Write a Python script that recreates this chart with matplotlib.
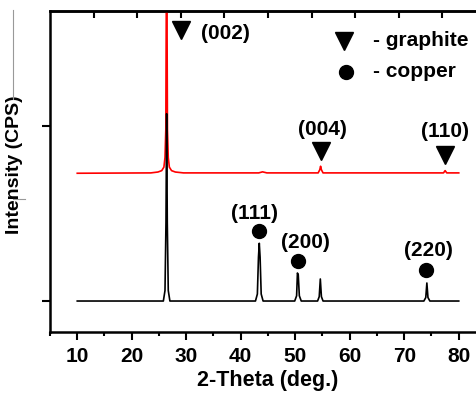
import matplotlib.pyplot as plt
from matplotlib.lines import Line2D

plt.rcParams['font.family'] = ['Liberation Sans', 'DejaVu Sans']
plt.rcParams['font.weight'] = 'bold'

# black trace (points along the pattern)
black_x = [10, 25.8, 26.1, 26.28, 26.4, 26.52, 26.7, 27.0,
           42.7, 43.05, 43.25, 43.4, 43.55, 43.75, 44.1,
           49.9, 50.25, 50.4, 50.55, 50.75, 51.1,
           54.1, 54.4, 54.6, 54.8, 55.1,
           73.6, 73.95, 74.15, 74.35, 74.7, 80]
black_y = [0, 0.0, 0.06, 0.45, 1.07, 0.45, 0.06, 0.0,
           0.0, 0.04, 0.25, 0.33, 0.25, 0.04, 0.0,
           0.0, 0.03, 0.16, 0.03 + 0.12, 0.03, 0.0,
           0.0, 0.025, 0.126, 0.025, 0.0,
           0.0, 0.02, 0.103, 0.02, 0.0, 0]

# red trace
red_x = [10, 23.5, 24.8, 25.5, 25.9, 26.1, 26.25, 26.4, 26.55, 26.7, 26.9,
         27.3, 28.0, 29.5, 43.3, 44.0, 44.8, 54.2, 54.5, 54.65, 54.8, 55.1,
         77.2, 77.5, 77.8, 80]
red_y = [0.73, 0.732, 0.737, 0.745, 0.765, 0.82, 0.98, 2.2, 0.98, 0.82, 0.765,
         0.745, 0.737, 0.732, 0.732, 0.738, 0.732, 0.732, 0.75, 0.77, 0.75, 0.732,
         0.732, 0.745, 0.732, 0.732]

# peak labels
g_labels = ['(002)', '(004)', '(110)']
g_text_x = [37.1, 55.0, 77.5]
g_text_y = [1.53, 0.98, 0.97]
g_mark_x = [29.0, 54.8, 77.5]
g_mark_y = [1.55, 0.857, 0.834]

cu_labels = ['(111)', '(200)', '(220)']
cu_text_x = [42.5, 51.8, 74.5]
cu_text_y = [0.50, 0.337, 0.291]
cu_mark_x = [43.4, 50.5, 74.0]
cu_mark_y = [0.40, 0.229, 0.177]

fig = plt.figure(figsize=(4.76, 3.94), dpi=100)
ax = fig.add_axes([50/476, 1-332/394, 436/476, 321/394])

ax.plot(red_x, red_y, color='red', lw=1.2)
ax.plot(black_x, black_y, color='black', lw=1.2)

ax.plot(g_mark_x, g_mark_y, 'v', color='black', ms=13, ls='none')
ax.plot(cu_mark_x, cu_mark_y, 'o', color='black', ms=10, ls='none')
for t, x, y in zip(g_labels + cu_labels, g_text_x + cu_text_x, g_text_y + cu_text_y):
    ax.text(x, y, t, ha='center', va='center', fontsize=15, fontweight='bold')

# legend-like key drawn by hand
ax.plot([59.0], [1.488], 'v', color='black', ms=13)
ax.plot([59.3], [1.309], 'o', color='black', ms=10)
ax.text(64.3, 1.49, '- graphite', ha='left', va='center', fontsize=15, fontweight='bold')
ax.text(64.3, 1.309, '- copper', ha='left', va='center', fontsize=15, fontweight='bold')

ax.set_xlim(5, 85)
ax.set_ylim(-0.177, 1.657)
ax.set_xticks(range(10, 81, 10))
ax.set_xticks(range(5, 86, 5), minor=True)
ax.set_yticks([0, 1])
ax.set_yticklabels([])
ax.tick_params(axis='x', which='major', direction='out', length=6, width=1.5, labelsize=15, pad=5)
ax.tick_params(axis='x', which='minor', direction='out', length=3, width=1.5)
ax.tick_params(axis='y', direction='out', length=6, width=1.5)
for lab in ax.get_xticklabels():
    lab.set_fontweight('bold')

top = ax.secondary_xaxis('top')
top.set_xticks(range(13, 86, 8))
top.set_xticklabels([])
top.tick_params(direction='in', length=5, width=1.5)
top.spines['top'].set_linewidth(1.8)

for s in ax.spines.values():
    s.set_linewidth(1.8)

ax.set_xlabel('2-Theta (deg.)', fontsize=15.5, fontweight='bold', labelpad=3)
ax.set_ylabel('Intensity (CPS)', fontsize=14, fontweight='bold')
ax.yaxis.set_label_coords(-27/436, 0.52)

# stray thin lines in the scanned figure
fig.add_artist(Line2D([13/476, 13/476], [1-10/394, 1-99/394], color='#999999', lw=0.8))
fig.add_artist(Line2D([13/476, 25/476], [1-199/394, 1-199/394], color='#999999', lw=0.8))

fig.savefig('out.png', dpi=100)
